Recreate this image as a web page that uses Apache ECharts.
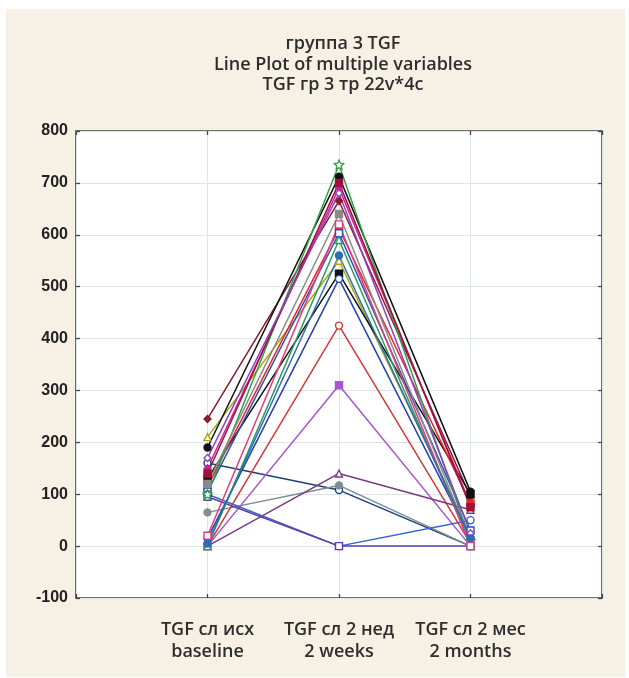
<!DOCTYPE html>
<html>
<head>
<meta charset="utf-8">
<script src="https://cdn.jsdelivr.net/npm/echarts@6/dist/echarts.min.js"></script>
<style>
  html, body { margin: 0; padding: 0; background: #ffffff; }
  #panel { position: absolute; left: 6px; top: 9px; width: 619px; height: 668px; background: #f6f1e4; }
  #chart { position: absolute; left: 0; top: 0; width: 629px; height: 678px; }
</style>
</head>
<body>
<div id="panel"></div>
<div id="chart"></div>
<script>
// Measurement points along the x axis
const categories = ['TGF сл исх\nbaseline', 'TGF сл 2 нед\n2 weeks', 'TGF сл 2 мес\n2 months'];
const yTicks = [-100, 0, 100, 200, 300, 400, 500, 600, 700, 800];

// One array per variable: [baseline, 2 weeks, 2 months]
const v01 = [245, 665, 95];
const v02 = [210, 550, 20];
const v03 = [190, 712, 105];
const v04 = [130, 525, 100];
const v05 = [160, 108, 0];
const v06 = [150, 690, 80];
const v07 = [115, 612, 82];
const v08 = [105, 603, 30];
const v09 = [65, 117, 0];
const v10 = [15, 515, 15];
const v11 = [0, 425, 5];
const v12 = [0, 310, 0];
const v13 = [0, 140, 70];
const v14 = [100, 0, 50];
const v15 = [95, 0, 0];
const v16 = [100, 735, 10];
const v17 = [140, 700, 75];
const v18 = [170, 680, 25];
const v19 = [120, 640, 10];
const v20 = [0, 590, 5];
const v21 = [20, 620, 0];
const v22 = [5, 560, 15];

const STAR = 'path://M0,-10L2.9,-4L9.5,-3.1L4.7,1.5L5.9,8.1L0,5L-5.9,8.1L-4.7,1.5L-9.5,-3.1L-2.9,-4Z';

const variables = [
  { name: 'v1',  data: v01, color: '#8a1c2c', symbol: 'diamond', fill: true },
  { name: 'v2',  data: v02, color: '#a8a818', symbol: 'triangle', fill: false },
  { name: 'v3',  data: v03, color: '#111111', symbol: 'circle', fill: true },
  { name: 'v4',  data: v04, color: '#111111', symbol: 'rect', fill: true },
  { name: 'v5',  data: v05, color: '#1d3f7a', symbol: 'circle', fill: false },
  { name: 'v6',  data: v06, color: '#d0209a', symbol: 'diamond', fill: true },
  { name: 'v7',  data: v07, color: '#e02a2a', symbol: 'rect', fill: true },
  { name: 'v8',  data: v08, color: '#2a4fc0', symbol: 'rect', fill: false },
  { name: 'v9',  data: v09, color: '#7c8f92', symbol: 'circle', fill: true },
  { name: 'v10', data: v10, color: '#2240b0', symbol: 'circle', fill: false },
  { name: 'v11', data: v11, color: '#d03a3a', symbol: 'circle', fill: false },
  { name: 'v12', data: v12, color: '#a855d0', symbol: 'rect', fill: true },
  { name: 'v13', data: v13, color: '#7a3a84', symbol: 'triangle', fill: false },
  { name: 'v14', data: v14, color: '#3562d0', symbol: 'circle', fill: false },
  { name: 'v15', data: v15, color: '#5b3ea6', symbol: 'rect', fill: false },
  { name: 'v16', data: v16, color: '#2fa048', symbol: STAR, fill: false },
  { name: 'v17', data: v17, color: '#a01038', symbol: 'rect', fill: true },
  { name: 'v18', data: v18, color: '#9040c0', symbol: 'diamond', fill: false },
  { name: 'v19', data: v19, color: '#8a8a8a', symbol: 'rect', fill: true },
  { name: 'v20', data: v20, color: '#2e9a5c', symbol: 'triangle', fill: false },
  { name: 'v21', data: v21, color: '#e0407e', symbol: 'rect', fill: false },
  { name: 'v22', data: v22, color: '#2a6fb0', symbol: 'circle', fill: true }
];

const labelFont = '"Liberation Sans", Arial, sans-serif';
const titleFont = '"Open Sans", "Noto Sans", sans-serif';
const frame = '#41474a';

const chart = echarts.init(document.getElementById('chart'), null, { renderer: 'canvas' });

const series = variables.map(v => ({
  name: v.name,
  type: 'line',
  data: v.data.map((y, i) => [i + 1, y]),
  symbol: v.symbol,
  symbolSize: v.symbol === STAR ? 9 : 7,
  showSymbol: true,
  lineStyle: { color: v.color, width: 1.5 },
  itemStyle: { color: v.fill ? v.color : '#ffffff', borderColor: v.color, borderWidth: 1.4 },
  emphasis: { disabled: true },
  animation: false
}));

const innerTick = { show: true, inside: true, length: 4, lineStyle: { color: frame, width: 1.3 } };

chart.setOption({
  backgroundColor: 'transparent',
  animation: false,
  title: {
    text: 'группа 3 TGF\nLine Plot of multiple variables\nTGF гр 3 тр 22v*4c',
    left: 338,
    textAlign: 'center',
    top: 29,
    textStyle: {
      fontFamily: titleFont,
      fontWeight: 600,
      fontSize: 18,
      lineHeight: 20.5,
      color: '#2e2e2e'
    }
  },
  grid: {
    left: 76, right: 27, top: 131, bottom: 80,
    show: true,
    backgroundColor: '#ffffff',
    borderColor: frame,
    borderWidth: 1.6
  },
  xAxis: [
    {
      type: 'value', min: 0, max: 4, interval: 1, position: 'bottom',
      axisLine: { show: false, onZero: false },
      axisTick: innerTick,
      splitLine: { show: true, lineStyle: { color: '#dde5ea', width: 1 } },
      axisLabel: {
        margin: 21,
        fontFamily: titleFont,
        fontWeight: 600,
        fontSize: 18,
        lineHeight: 22,
        color: '#2e2e2e',
        formatter: val => (val >= 1 && val <= 3 && Number.isInteger(val)) ? categories[val - 1] : ''
      }
    },
    {
      type: 'value', min: 0, max: 4, interval: 1, position: 'top',
      axisLine: { show: false, onZero: false },
      axisTick: innerTick,
      splitLine: { show: false },
      axisLabel: { show: false }
    }
  ],
  yAxis: [
    {
      type: 'value', min: -100, max: 800, interval: 100, position: 'left',
      axisLine: { show: false, onZero: false },
      axisTick: innerTick,
      splitLine: { show: true, lineStyle: { color: '#dde5ea', width: 1 } },
      axisLabel: {
        margin: 8,
        fontFamily: labelFont,
        fontWeight: 'bold',
        fontSize: 16,
        color: '#222222',
        formatter: val => yTicks.includes(val) ? String(val) : ''
      }
    },
    {
      type: 'value', min: -100, max: 800, interval: 100, position: 'right',
      axisLine: { show: false, onZero: false },
      axisTick: innerTick,
      splitLine: { show: false },
      axisLabel: { show: false }
    }
  ],
  series: series
});
</script>
</body>
</html>
